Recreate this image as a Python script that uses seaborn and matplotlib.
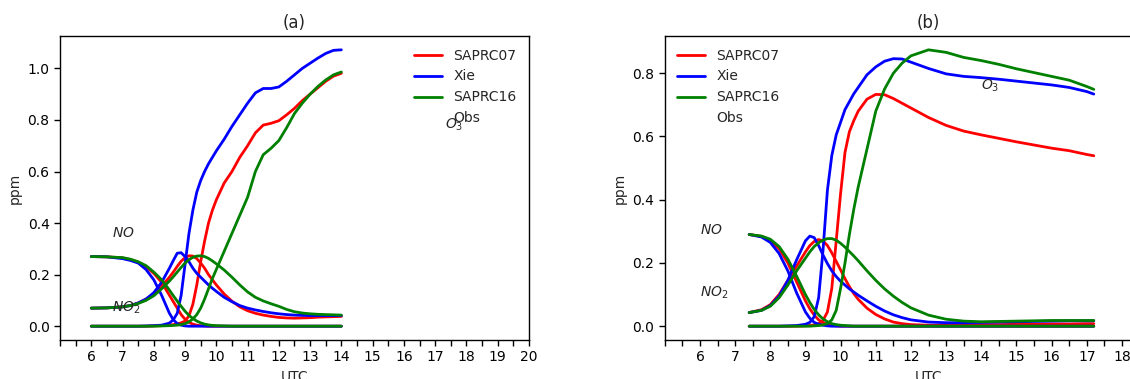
import numpy as np
import pandas as pd
import matplotlib
matplotlib.use("Agg")
import matplotlib.pyplot as plt
from matplotlib.lines import Line2D
import seaborn as sns

# ---------------- data ----------------
models = ["SAPRC07", "Xie", "SAPRC16"]
model_colors = ["red", "blue", "green"]
hour_ticks = list(range(6, 21))

# (a) simulation hours (UTC)
t_a = [6.0, 6.5, 7.0, 7.25, 7.5, 7.75, 8.0, 8.25, 8.5,
       8.625, 8.75, 8.875, 9.0, 9.125, 9.25, 9.375, 9.5, 9.625, 9.75, 9.875, 10.0,
       10.25, 10.5, 10.75, 11.0, 11.25, 11.5, 11.75, 12.0, 12.25, 12.5, 12.75,
       13.0, 13.25, 13.5, 13.75, 14.0]

o3_a_saprc07 = [0, 0, 0, 0, 0, 0, 0.001, 0.002, 0.004,
                0.006, 0.009, 0.013, 0.02, 0.04, 0.085, 0.16, 0.25, 0.33, 0.40, 0.45, 0.49,
                0.555, 0.60, 0.655, 0.70, 0.75, 0.78, 0.787, 0.797, 0.82, 0.845, 0.875,
                0.90, 0.925, 0.95, 0.97, 0.981]
o3_a_xie = [0, 0, 0, 0, 0, 0.001, 0.002, 0.004, 0.012,
            0.025, 0.05, 0.12, 0.24, 0.36, 0.45, 0.52, 0.565, 0.60, 0.63, 0.655, 0.68,
            0.725, 0.775, 0.82, 0.865, 0.905, 0.922, 0.922, 0.928, 0.95, 0.975, 1.0,
            1.02, 1.04, 1.058, 1.07, 1.072]
o3_a_saprc16 = [0, 0, 0, 0, 0, 0, 0, 0.001, 0.002,
                0.003, 0.004, 0.006, 0.01, 0.017, 0.028, 0.045, 0.07, 0.105, 0.145, 0.185, 0.22,
                0.29, 0.36, 0.43, 0.50, 0.60, 0.665, 0.69, 0.72, 0.77, 0.825, 0.865,
                0.90, 0.93, 0.955, 0.975, 0.986]

no_a_saprc07 = [0.27, 0.269, 0.265, 0.258, 0.248, 0.23, 0.205, 0.17, 0.12,
                0.095, 0.07, 0.045, 0.027, 0.015, 0.008, 0.004, 0.002, 0.001, 0, 0, 0,
                0, 0, 0, 0, 0, 0, 0, 0, 0, 0, 0,
                0, 0, 0, 0, 0]
no_a_xie = [0.27, 0.269, 0.262, 0.255, 0.245, 0.22, 0.18, 0.12, 0.05,
            0.025, 0.01, 0.004, 0.001, 0, 0, 0, 0, 0, 0, 0, 0,
            0, 0, 0, 0, 0, 0, 0, 0, 0, 0, 0,
            0, 0, 0, 0, 0]
no_a_saprc16 = [0.27, 0.269, 0.266, 0.26, 0.25, 0.235, 0.21, 0.18, 0.14,
                0.118, 0.097, 0.077, 0.058, 0.042, 0.03, 0.02, 0.013, 0.008, 0.005, 0.003, 0.002,
                0.001, 0, 0, 0, 0, 0, 0, 0, 0, 0, 0,
                0, 0, 0, 0, 0]

no2_a_saprc07 = [0.07, 0.071, 0.075, 0.08, 0.09, 0.105, 0.125, 0.155, 0.19,
                 0.21, 0.232, 0.252, 0.266, 0.273, 0.272, 0.262, 0.245, 0.225, 0.20, 0.18, 0.16,
                 0.125, 0.097, 0.075, 0.06, 0.05, 0.043, 0.038, 0.034, 0.032, 0.031, 0.032,
                 0.033, 0.035, 0.036, 0.037, 0.038]
no2_a_xie = [0.07, 0.071, 0.075, 0.08, 0.09, 0.105, 0.13, 0.17, 0.225,
             0.255, 0.283, 0.285, 0.27, 0.25, 0.225, 0.205, 0.19, 0.175, 0.16, 0.147, 0.135,
             0.112, 0.095, 0.08, 0.07, 0.063, 0.057, 0.052, 0.048, 0.045, 0.043, 0.042,
             0.041, 0.041, 0.041, 0.041, 0.041]
no2_a_saprc16 = [0.07, 0.071, 0.075, 0.08, 0.088, 0.10, 0.118, 0.145, 0.175,
                 0.192, 0.21, 0.228, 0.245, 0.258, 0.267, 0.272, 0.273, 0.27, 0.263, 0.253, 0.242,
                 0.218, 0.19, 0.16, 0.133, 0.112, 0.098, 0.087, 0.077, 0.065, 0.056, 0.051,
                 0.048, 0.046, 0.045, 0.044, 0.043]

# (b) simulation hours (UTC)
t_b = [7.4, 7.75, 8.0, 8.25, 8.5, 8.75, 9.0,
       9.125, 9.25, 9.375, 9.5, 9.625, 9.75, 9.875, 10.0, 10.125, 10.25, 10.375, 10.5,
       10.75, 11.0, 11.25, 11.5, 11.75, 12.0,
       12.5, 13.0, 13.5, 14.0, 14.5, 15.0, 15.5, 16.0, 16.5, 17.0, 17.2]

o3_b_saprc07 = [0, 0, 0, 0, 0, 0, 0.001,
                0.002, 0.004, 0.008, 0.018, 0.045, 0.12, 0.27, 0.42, 0.55, 0.615, 0.65, 0.68,
                0.718, 0.733, 0.732, 0.72, 0.705, 0.69,
                0.66, 0.635, 0.617, 0.605, 0.594, 0.583, 0.573, 0.563, 0.555, 0.543, 0.539]
o3_b_xie = [0, 0, 0, 0, 0.001, 0.002, 0.006,
            0.012, 0.03, 0.09, 0.24, 0.43, 0.54, 0.605, 0.645, 0.685, 0.71, 0.735, 0.755,
            0.795, 0.82, 0.838, 0.846, 0.845, 0.835,
            0.815, 0.798, 0.79, 0.786, 0.781, 0.775, 0.769, 0.763, 0.755, 0.742, 0.734]
o3_b_saprc16 = [0, 0, 0, 0, 0, 0, 0,
                0, 0.001, 0.002, 0.004, 0.008, 0.02, 0.05, 0.12, 0.20, 0.29, 0.37, 0.44,
                0.56, 0.68, 0.75, 0.80, 0.832, 0.855,
                0.874, 0.866, 0.85, 0.84, 0.828, 0.814, 0.802, 0.79, 0.778, 0.758, 0.749]

no_b_saprc07 = [0.29, 0.284, 0.272, 0.245, 0.20, 0.14, 0.08,
                0.055, 0.035, 0.02, 0.011, 0.006, 0.003, 0.001, 0, 0, 0, 0, 0,
                0, 0, 0, 0, 0, 0,
                0, 0, 0, 0, 0, 0, 0, 0, 0, 0, 0]
no_b_xie = [0.29, 0.282, 0.265, 0.23, 0.175, 0.105, 0.045,
            0.025, 0.012, 0.006, 0.003, 0.001, 0, 0, 0, 0, 0, 0, 0,
            0, 0, 0, 0, 0, 0,
            0, 0, 0, 0, 0, 0, 0, 0, 0, 0, 0]
no_b_saprc16 = [0.29, 0.285, 0.275, 0.252, 0.212, 0.158, 0.10,
                0.075, 0.053, 0.036, 0.023, 0.014, 0.008, 0.005, 0.003, 0.002, 0.001, 0, 0,
                0, 0, 0, 0, 0, 0,
                0, 0, 0, 0, 0, 0, 0, 0, 0, 0, 0]

no2_b_saprc07 = [0.043, 0.052, 0.068, 0.10, 0.145, 0.19, 0.235,
                 0.255, 0.268, 0.274, 0.27, 0.255, 0.232, 0.205, 0.178, 0.15, 0.125, 0.103, 0.085,
                 0.057, 0.037, 0.023, 0.013, 0.008, 0.005,
                 0.003, 0.003, 0.004, 0.005, 0.005, 0.006, 0.006, 0.007, 0.007, 0.008, 0.008]
no2_b_xie = [0.043, 0.05, 0.065, 0.095, 0.145, 0.21, 0.27,
             0.285, 0.28, 0.255, 0.225, 0.198, 0.175, 0.157, 0.142, 0.13, 0.118, 0.108, 0.098,
             0.08, 0.063, 0.048, 0.036, 0.027, 0.02,
             0.013, 0.011, 0.011, 0.012, 0.013, 0.014, 0.015, 0.016, 0.017, 0.017, 0.017]
no2_b_saprc16 = [0.043, 0.05, 0.063, 0.09, 0.13, 0.175, 0.215,
                 0.235, 0.252, 0.264, 0.272, 0.277, 0.277, 0.272, 0.262, 0.25, 0.236, 0.222, 0.207,
                 0.175, 0.145, 0.118, 0.095, 0.075, 0.058,
                 0.035, 0.022, 0.016, 0.014, 0.015, 0.016, 0.017, 0.018, 0.018, 0.018, 0.018]

panel_a = {
    "SAPRC07": [o3_a_saprc07, no_a_saprc07, no2_a_saprc07],
    "Xie": [o3_a_xie, no_a_xie, no2_a_xie],
    "SAPRC16": [o3_a_saprc16, no_a_saprc16, no2_a_saprc16],
}
panel_b = {
    "SAPRC07": [o3_b_saprc07, no_b_saprc07, no2_b_saprc07],
    "Xie": [o3_b_xie, no_b_xie, no2_b_xie],
    "SAPRC16": [o3_b_saprc16, no_b_saprc16, no2_b_saprc16],
}
species = ["O3", "NO", "NO2"]

# species labels: (hour, ppm) anchor of each text
labels_a = [("$NO$", 6.65, 0.345), ("$NO_2$", 6.65, 0.055), ("$O_3$", 17.3, 0.765)]
labels_b = [("$NO$", 6.0, 0.293), ("$NO_2$", 6.0, 0.093), ("$O_3$", 14.0, 0.748)]


def long_table(t, panel):
    rows = []
    for m in models:
        for sp, vals in zip(species, panel[m]):
            for h, v in zip(t, vals):
                rows.append((m, sp, h, v))
    return pd.DataFrame(rows, columns=["model", "species", "hour", "ppm"])


sns.set_style("ticks")
plt.rcParams["font.family"] = ["DejaVu Sans"]
plt.rcParams["axes.edgecolor"] = "black"
plt.rcParams["xtick.color"] = "black"
plt.rcParams["ytick.color"] = "black"

fig = plt.figure(figsize=(11.30, 3.79), dpi=100)
ax_a = fig.add_axes([0.0531, 0.1029, 0.4150, 0.8021])
ax_b = fig.add_axes([0.5883, 0.1029, 0.4668, 0.8021])

palette = dict(zip(models, model_colors))

for ax, t, panel, labels, title, loc in [
    (ax_a, t_a, panel_a, labels_a, "(a)", "upper right"),
    (ax_b, t_b, panel_b, labels_b, "(b)", "upper left"),
]:
    df = long_table(t, panel)
    sns.lineplot(data=df, x="hour", y="ppm", hue="model", units="species",
                 estimator=None, palette=palette, hue_order=models,
                 linewidth=2, legend=False, ax=ax, sort=False)
    ax.set_xlim(5, 20)
    ax.set_xticks(hour_ticks)
    ax.set_xticks(np.arange(5, 20.01, 0.5), minor=True)
    ax.tick_params(axis="both", which="both", length=4, width=1, direction="out")
    ax.set_xlabel("UTC")
    ax.set_ylabel("ppm")
    ax.set_title(title)
    for s in ax.spines.values():
        s.set_linewidth(1)
    for txt, h, v in labels:
        ax.text(h, v, txt, fontsize=10)
    handles = [Line2D([], [], color=c, lw=2) for c in model_colors]
    handles.append(Line2D([], [], linestyle="none"))
    ax.legend(handles, models + ["Obs"], loc=loc, frameon=False)

fig.savefig("out.png", dpi=100)
